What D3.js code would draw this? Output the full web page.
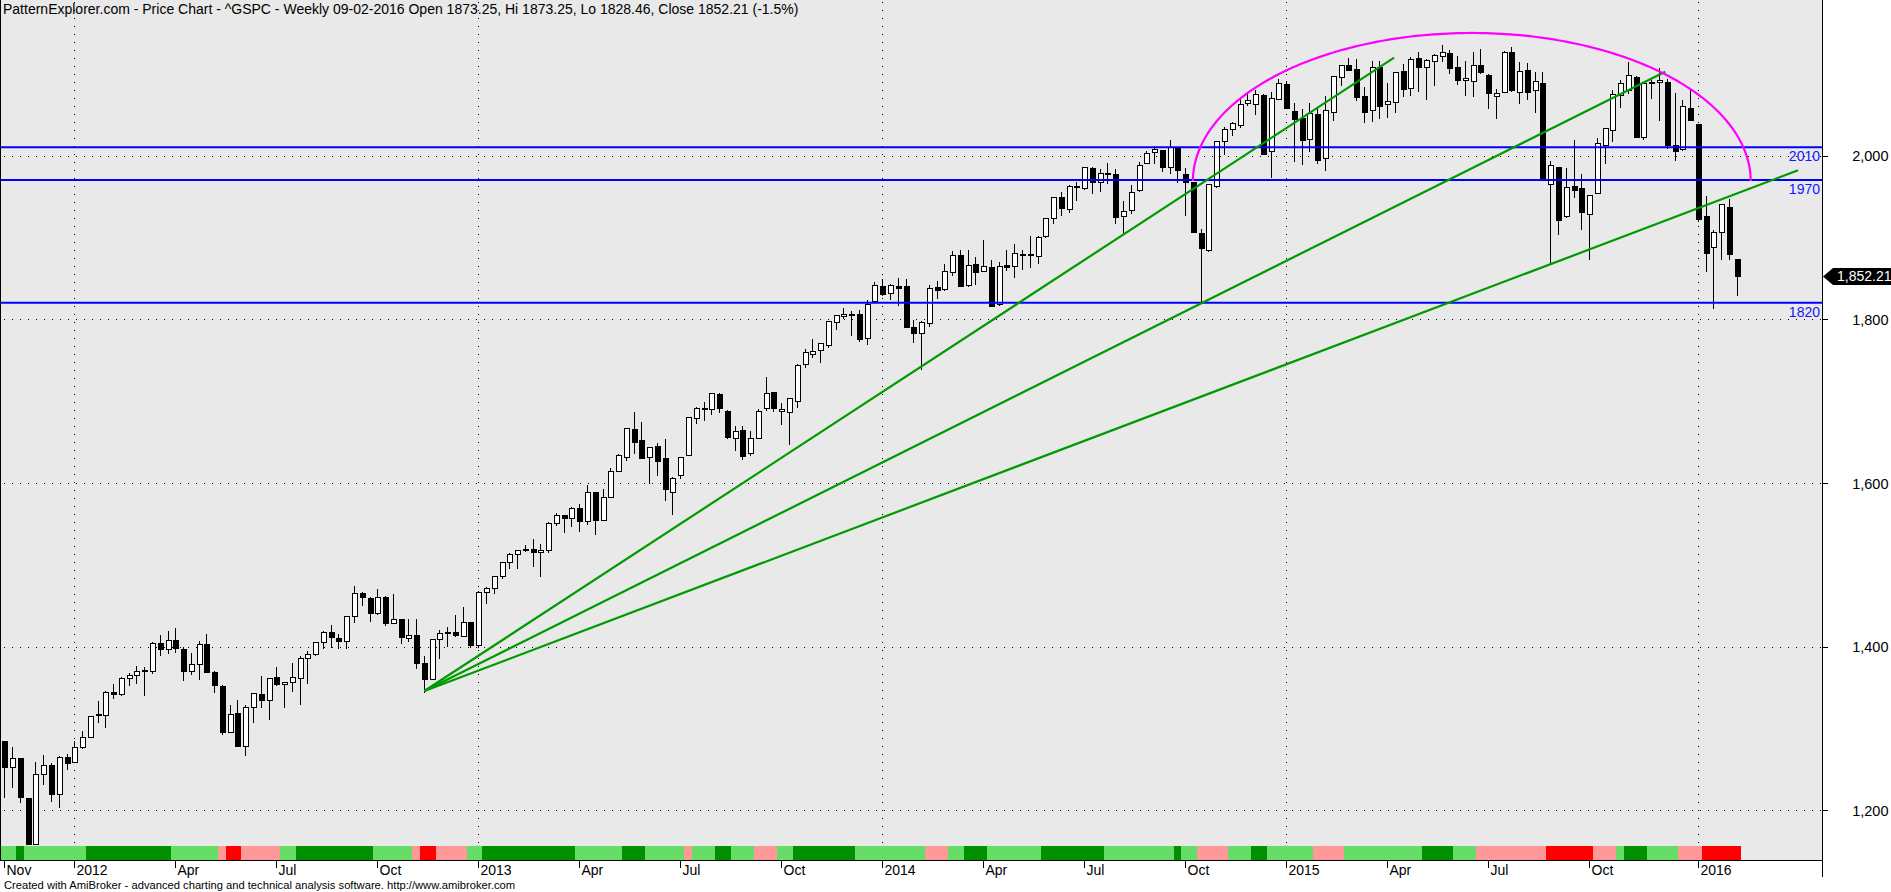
<!DOCTYPE html>
<html><head><meta charset="utf-8">
<script src="https://cdn.jsdelivr.net/npm/d3@7"></script>
<style>
html,body{margin:0;padding:0;background:#fff;}
svg{display:block;font-family:"Liberation Sans",Arial,Helvetica,sans-serif;}
</style>
</head><body>
<svg id="chart" width="1891" height="892"></svg>
<script>
// ---------------- DATA (weekly ^GSPC, first bar = week ending 2011-11-04) ----------------
const firstWeek = "2011-11-04";
const opens = [
1284.96,1253.21,1263.85,1215.62,1158.67,1244.33,1255.05,1219.74,1265.02,1258.86,
1277.83,1289.09,1317.90,1316.00,1344.32,1342.61,1361.22,1365.20,1369.59,1370.78,
1404.17,1397.11,1408.47,1397.45,1370.27,1378.53,1403.30,1368.79,1351.93,1295.73,
1318.90,1278.29,1325.92,1342.30,1334.90,1362.33,1354.66,1356.50,1362.20,1385.50,
1391.04,1405.87,1418.13,1410.40,1406.54,1437.92,1465.42,1459.50,1440.90,1460.93,
1428.75,1433.21,1410.99,1414.02,1379.86,1359.88,1409.15,1416.34,1418.07,1413.54,
1430.15,1402.43,1466.47,1472.12,1485.98,1502.96,1513.17,1517.93,1519.79,1515.60,
1518.20,1551.15,1560.70,1556.89,1569.18,1553.26,1588.59,1555.25,1582.34,1614.40,
1632.10,1665.71,1652.63,1631.71,1644.67,1630.64,1588.77,1609.78,1634.20,1679.59,
1692.09,1690.00,1708.01,1688.37,1655.25,1664.29,1635.95,1655.17,1691.00,1711.44,
1687.26,1687.00,1700.00,1744.70,1758.00,1762.00,1769.00,1797.00,1803.48,1806.55,
1806.21,1777.00,1822.00,1841.07,1832.31,1841.05,1841.05,1791.03,1782.68,1795.00,
1838.76,1836.78,1857.68,1877.86,1842.00,1867.67,1859.16,1863.92,1818.18,1865.79,
1864.50,1879.45,1880.03,1876.66,1902.01,1923.87,1948.97,1934.84,1962.92,1960.79,
1984.22,1968.00,1979.00,1978.00,1926.00,1933.00,1958.00,1991.00,2004.07,2007.17,
1986.00,2009.08,1978.00,1967.68,1905.65,1885.00,1963.00,2018.00,2032.00,2037.00,
2064.50,2063.50,2074.00,2005.03,2069.00,2087.00,2054.44,2046.13,2020.00,2050.42,
1996.67,2053.47,2096.47,2110.88,2105.23,2072.25,2055.35,2107.99,2062.50,2064.87,
2102.94,2082.00,2119.29,2108.00,2115.00,2121.00,2125.00,2108.64,2092.34,2091.34,
2110.64,2098.63,2073.00,2077.00,2126.00,2078.00,2104.49,2080.00,2089.00,1965.15,
1986.00,1926.50,1963.06,1960.84,1928.00,1954.00,2013.00,2031.00,2073.50,2079.70,
2095.50,2022.08,2089.00,2090.00,2089.80,2013.37,2008.30,2057.77,2038.20,1926.12,
1888.00,1906.28,1936.94,1873.25];
const highs = [
1284.96,1277.55,1264.25,1215.62,1259.00,1267.06,1258.00,1265.86,1269.37,1284.62,
1296.82,1315.49,1333.47,1345.34,1354.32,1362.70,1368.10,1376.17,1374.76,1405.88,
1414.00,1419.15,1422.38,1399.00,1392.00,1406.64,1415.32,1370.00,1353.00,1328.49,
1334.93,1329.05,1343.32,1363.53,1362.17,1374.81,1357.00,1380.39,1389.00,1394.16,
1405.98,1418.71,1426.68,1415.40,1437.92,1474.51,1467.00,1460.00,1470.96,1462.00,
1464.02,1434.00,1434.27,1433.38,1388.81,1409.16,1419.70,1423.73,1438.59,1448.00,
1430.15,1467.94,1472.75,1485.98,1503.26,1514.41,1518.31,1524.69,1530.94,1525.84,
1552.48,1563.62,1561.00,1570.28,1573.66,1597.35,1588.59,1592.64,1618.46,1635.01,
1667.47,1687.18,1674.21,1644.40,1648.69,1654.19,1607.00,1632.07,1680.19,1693.12,
1698.43,1709.67,1709.24,1689.00,1669.51,1669.00,1664.00,1689.97,1729.86,1711.44,
1698.00,1703.44,1745.31,1763.99,1775.22,1771.00,1798.22,1804.84,1813.55,1810.00,
1811.52,1823.75,1844.89,1849.44,1843.23,1850.84,1849.31,1798.77,1798.03,1841.65,
1846.50,1867.92,1883.57,1883.97,1883.97,1875.92,1897.28,1872.53,1869.63,1884.89,
1891.33,1885.00,1902.17,1901.26,1924.03,1949.44,1955.55,1963.91,1968.17,1985.59,
1985.59,1983.94,1991.39,1984.00,1944.00,1964.04,1992.40,2005.04,2011.17,2007.17,
2019.26,2009.08,1985.00,1967.68,1910.00,1965.27,2018.19,2034.26,2041.28,2071.46,
2075.76,2079.47,2075.00,2077.85,2093.55,2090.60,2064.43,2056.93,2064.62,2057.62,
2072.40,2097.03,2110.61,2119.59,2117.52,2083.49,2114.86,2114.86,2088.00,2102.61,
2111.91,2120.92,2125.92,2117.66,2123.89,2134.72,2129.00,2121.92,2115.00,2126.65,
2130.00,2099.00,2081.00,2128.00,2132.82,2114.24,2112.66,2102.00,2101.60,1993.00,
1986.00,1985.00,2019.00,1977.40,1951.36,2020.86,2034.00,2079.74,2092.20,2114.20,
2097.00,2089.17,2091.90,2107.30,2093.00,2076.72,2067.65,2081.56,2038.20,1950.33,
1908.85,1940.24,1947.20,1873.25];
const lows = [
1215.42,1226.64,1209.47,1158.66,1158.66,1231.47,1210.00,1202.37,1248.64,1258.86,
1275.00,1288.00,1306.06,1300.49,1336.40,1340.00,1352.28,1354.70,1340.03,1366.69,
1388.13,1391.00,1392.00,1357.38,1365.38,1358.79,1367.96,1343.13,1291.98,1295.00,
1277.25,1266.74,1306.62,1324.41,1309.98,1352.00,1325.41,1345.00,1329.24,1354.65,
1389.00,1397.00,1398.60,1397.01,1396.56,1429.13,1449.57,1430.53,1439.00,1425.53,
1428.00,1403.28,1405.95,1373.03,1343.35,1359.00,1385.43,1399.10,1412.00,1413.00,
1398.11,1398.11,1451.64,1463.76,1482.00,1495.00,1495.00,1515.00,1497.29,1485.01,
1514.00,1547.00,1538.57,1546.22,1539.50,1548.00,1536.03,1553.00,1581.00,1614.00,
1626.74,1635.53,1630.00,1598.23,1608.07,1577.70,1560.33,1604.57,1634.00,1672.00,
1676.03,1683.00,1684.91,1654.00,1639.43,1627.47,1633.41,1655.00,1688.00,1687.11,
1670.36,1646.47,1692.00,1740.00,1752.00,1746.20,1765.00,1787.00,1800.00,1779.09,
1772.28,1767.99,1822.00,1827.74,1823.73,1815.80,1790.29,1770.45,1737.92,1791.00,
1825.00,1834.00,1853.00,1839.49,1839.00,1842.00,1858.00,1814.36,1815.80,1859.00,
1850.61,1859.79,1862.36,1868.00,1899.00,1915.98,1925.78,1930.00,1944.69,1958.00,
1952.86,1955.59,1965.00,1916.37,1904.78,1928.00,1956.00,1990.00,1990.10,1980.26,
1978.00,1965.99,1926.03,1905.03,1820.66,1882.00,1960.00,2001.01,2024.00,2034.00,
2061.00,2049.57,2001.00,1972.56,2069.00,2057.00,1992.44,1988.12,2004.49,1989.18,
1980.90,2041.88,2085.44,2103.00,2066.00,2039.69,2041.00,2045.00,2045.50,2052.00,
2072.00,2073.00,2077.00,2067.93,2085.00,2114.00,2099.00,2085.67,2072.14,2072.00,
2099.00,2056.32,2044.02,2077.00,2077.00,2063.52,2067.91,2052.09,1970.89,1867.01,
1903.07,1924.00,1948.40,1908.77,1871.91,1953.00,1990.00,2017.00,2058.00,2075.00,
2022.00,2019.00,2069.40,2042.50,2008.00,1993.26,2005.00,2042.00,1918.46,1857.83,
1812.29,1872.65,1872.65,1828.46];
const closes = [
1253.23,1263.85,1215.65,1158.67,1244.28,1255.19,1219.66,1265.33,1257.60,1277.81,
1289.09,1315.38,1316.33,1344.90,1342.64,1361.23,1365.74,1369.63,1370.87,1404.17,
1397.11,1408.47,1398.08,1370.26,1378.53,1403.36,1369.10,1353.39,1295.22,1317.82,
1278.04,1325.66,1342.84,1335.02,1362.16,1354.68,1356.78,1362.66,1385.97,1390.99,
1405.87,1418.16,1411.13,1406.58,1437.92,1465.77,1460.15,1440.67,1460.93,1428.59,
1433.19,1411.94,1414.20,1379.85,1359.88,1409.15,1416.18,1418.07,1413.58,1430.15,
1402.43,1466.47,1472.05,1485.98,1502.96,1513.17,1517.93,1519.79,1515.60,1518.20,
1551.18,1560.70,1556.89,1569.19,1553.28,1588.85,1555.25,1582.24,1614.42,1633.70,
1667.47,1649.60,1630.74,1643.38,1626.73,1592.43,1606.28,1631.89,1680.19,1692.09,
1691.65,1709.67,1691.42,1655.83,1663.50,1632.97,1655.17,1687.99,1709.91,1691.75,
1690.50,1703.20,1744.50,1759.77,1761.64,1770.61,1798.18,1804.76,1805.81,1805.09,
1775.32,1818.32,1841.40,1831.37,1842.37,1838.70,1790.29,1782.59,1797.02,1838.63,
1836.25,1859.45,1878.04,1841.13,1866.52,1857.62,1865.09,1815.69,1864.85,1863.40,
1881.14,1878.48,1877.86,1900.53,1923.57,1949.44,1936.16,1962.87,1960.96,1985.44,
1967.57,1978.22,1978.34,1925.15,1931.59,1955.06,1988.40,2003.37,2007.71,1985.54,
2010.40,1982.85,1967.90,1906.13,1886.76,1964.58,2018.05,2031.92,2039.82,2063.50,
2067.56,2075.37,2002.33,2070.65,2088.77,2058.20,2044.81,2019.42,2051.82,1994.99,
2055.47,2096.99,2110.30,2104.50,2071.26,2053.40,2108.10,2061.02,2066.96,2102.06,
2081.18,2117.69,2108.29,2116.10,2122.73,2126.06,2107.39,2092.83,2094.11,2109.99,
2101.49,2076.78,2076.62,2126.64,2079.65,2103.84,2077.57,2091.54,1970.89,1988.87,
1921.22,1961.05,1958.08,1931.34,1951.36,2014.89,2033.11,2075.15,2088.20,2098.00,
2023.04,2089.17,2090.11,2091.69,2012.37,2005.55,2060.99,2043.94,1922.03,1880.33,
1906.90,1940.24,1880.05,1852.21];

// bottom colour strip, run-length per weekly bar
const stripRuns = [["L",2],["D",1],["L",8],["D",11],["L",6],["P",1],["R",2],["P",5],["L",2],["D",10],
["L",5],["P",1],["R",2],["P",4],["L",2],["D",12],["L",6],["D",3],["L",5],["P",1],["L",3],["D",2],
["L",3],["P",3],["L",2],["D",8],["L",9],["P",3],["L",2],["D",3],["L",7],["D",8],["L",9],["D",1],
["L",2],["P",4],["L",3],["D",2],["L",6],["P",4],["L",10],["D",4],["L",3],["P",9],["R",6],["P",3],
["L",1],["D",3],["L",4],["P",3],["R",5]];
const stripColors = {L:"#66dd66", D:"#009000", P:"#ff9999", R:"#ff0000"};

const yTicks = [1200,1400,1600,1800,2000];
const xTickDates  = ["2011-11-04","2012-01-06","2012-04-05","2012-07-06","2012-10-05","2013-01-04","2013-04-05","2013-07-05","2013-10-04","2014-01-03","2014-04-04","2014-07-03","2014-10-03","2015-01-02","2015-04-02","2015-07-02","2015-10-02","2016-01-08"];
const xTickLabels = ["Nov","2012","Apr","Jul","Oct","2013","Apr","Jul","Oct","2014","Apr","Jul","Oct","2015","Apr","Jul","Oct","2016"];

const levels = [2010, 1970, 1820];
const trendStart = {bar: 54.06, value: 1345.7};
const trendEnds = [{bar:178.9, value:2119.5},{bar:213.8, value:2102.4},{bar:230.9, value:1981.9}];
const dome = {fromBar:153.0, toBar:224.8, base:1968.8, top:2149.7};

const titleText = "PatternExplorer.com - Price Chart - ^GSPC - Weekly 09-02-2016 Open 1873.25, Hi 1873.25, Lo 1828.46, Close 1852.21 (-1.5%)";
const footerText = "Created with AmiBroker - advanced charting and technical analysis software. http://www.amibroker.com";
const lastPrice = 1852.21;

// ---------------- LAYOUT ----------------
const svg = d3.select("#chart");
const P = {left:0, right:1822, top:0, bottom:860, strip:846};
const nBars = closes.length;
const x = d3.scaleLinear().domain([0, nBars-1]).range([4.4, 1736.7]);
const y = d3.scaleLinear().domain([1200, 2000]).range([810.3, 155.5]);
const parse = d3.timeParse("%Y-%m-%d");
const t0 = parse(firstWeek);
const barOf = s => d3.timeWeek.count(t0, parse(s));

svg.append("rect").attr("width",1891).attr("height",892).attr("fill","#fff");
svg.append("rect").attr("x",P.left).attr("y",P.top).attr("width",P.right-P.left).attr("height",P.bottom-P.top).attr("fill","#e9e9e9");

const defs = svg.append("defs");
defs.append("clipPath").attr("id","clip").append("rect").attr("x",1).attr("y",0).attr("width",P.right-1).attr("height",P.strip);

const g = svg.append("g").attr("clip-path","url(#clip)");

// grid
const gridG = g.append("g").attr("stroke","#000").attr("stroke-width",1).attr("stroke-dasharray","1,7").attr("shape-rendering","crispEdges");
gridG.selectAll("line.h").data(yTicks).join("line").attr("class","h")
  .attr("x1",P.left+4).attr("x2",P.right).attr("y1",d=>Math.round(y(d))+0.5).attr("y2",d=>Math.round(y(d))+0.5);
const yearTicks = xTickDates.map((d,i)=>({bar:barOf(d), label:xTickLabels[i]})).filter(d=>/^\d{4}$/.test(d.label));
gridG.selectAll("line.v").data(yearTicks).join("line").attr("class","v")
  .attr("x1",d=>Math.round(x(d.bar))+0.5).attr("x2",d=>Math.round(x(d.bar))+0.5).attr("y1",2).attr("y2",P.strip);

// candles
const bars = d3.range(nBars).map(i=>({i,o:opens[i],h:highs[i],l:lows[i],c:closes[i]}));
const cg = g.append("g").attr("shape-rendering","crispEdges");
const cx = d => Math.round(x(d.i)) + 0.5;
cg.selectAll("line.wick").data(bars).join("line").attr("class","wick")
  .attr("x1",cx).attr("x2",cx).attr("y1",d=>y(d.h)).attr("y2",d=>y(d.l))
  .attr("stroke","#000").attr("stroke-width",1);
cg.selectAll("rect.body").data(bars).join("rect").attr("class","body")
  .attr("x",d=>cx(d)-2.5).attr("width",5)
  .attr("y",d=>Math.round(y(Math.max(d.o,d.c)))+0.5)
  .attr("height",d=>Math.max(1, Math.round(y(Math.min(d.o,d.c))) - Math.round(y(Math.max(d.o,d.c)))))
  .attr("fill",d=>d.c>=d.o?"#fff":"#000").attr("stroke","#000").attr("stroke-width",1);

// horizontal levels
g.selectAll("line.lvl").data(levels).join("line").attr("class","lvl")
  .attr("x1",P.left).attr("x2",P.right).attr("y1",d=>y(d)).attr("y2",d=>y(d))
  .attr("stroke","#0000ff").attr("stroke-width",2);

// trend lines
g.selectAll("line.tr").data(trendEnds).join("line").attr("class","tr")
  .attr("x1",x(trendStart.bar)).attr("y1",y(trendStart.value))
  .attr("x2",d=>x(d.bar)).attr("y2",d=>y(d.value))
  .attr("stroke","#009a00").attr("stroke-width",2.2);

// dome (half ellipse)
const cBar=(dome.fromBar+dome.toBar)/2, aBar=(dome.toBar-dome.fromBar)/2, hVal=dome.top-dome.base;
const domePts = d3.range(0,181).map(k=>{const t=Math.PI*k/180; return [cBar - aBar*Math.cos(t), dome.base + hVal*Math.sin(t)];});
g.append("path").attr("d", d3.line().x(d=>x(d[0])).y(d=>y(d[1]))(domePts))
  .attr("fill","none").attr("stroke","#ff00ff").attr("stroke-width",2.2);

// level labels
svg.selectAll("text.lvl").data(levels).join("text").attr("class","lvl")
  .attr("x",1820).attr("y",d=>y(d)+14).attr("text-anchor","end")
  .attr("font-size",14).attr("fill","#1515ff").text(d=>d);

// colour strip
let k=0; const strip=[];
stripRuns.forEach(([c,n])=>{ for(let j=0;j<n;j++){ strip.push({i:k++, c}); } });
svg.append("g").attr("shape-rendering","crispEdges").selectAll("rect").data(strip).join("rect")
  .attr("x",d=>Math.round(x(d.i-0.5))).attr("width",d=>Math.round(x(d.i+0.5))-Math.round(x(d.i-0.5)))
  .attr("y",P.strip).attr("height",P.bottom-P.strip).attr("fill",d=>stripColors[d.c]);

// frame
const fr = svg.append("g").attr("stroke","#000").attr("stroke-width",1).attr("shape-rendering","crispEdges");
fr.append("line").attr("x1",0.5).attr("x2",0.5).attr("y1",0).attr("y2",P.bottom);
fr.append("line").attr("x1",0).attr("x2",P.right).attr("y1",P.bottom+0.5).attr("y2",P.bottom+0.5);
fr.append("line").attr("x1",P.right+0.5).attr("x2",P.right+0.5).attr("y1",0).attr("y2",877);

// y axis
const yAxis = d3.axisRight(y).tickValues(yTicks).tickFormat(d3.format(",")).tickSize(5).tickSizeOuter(0);
const ya = svg.append("g").attr("transform",`translate(${P.right+0.5},0)`).call(yAxis);
ya.select(".domain").remove();
ya.selectAll("line").attr("stroke","#000").attr("shape-rendering","crispEdges");
ya.selectAll("text").attr("x",66).attr("text-anchor","end").attr("font-size",14.5)
  .attr("font-family","'Liberation Sans',Arial,sans-serif").attr("fill","#000").attr("dy","0.36em");

// x axis ticks
const xt = xTickDates.map((d,i)=>({bar:barOf(d), label:xTickLabels[i]}));
const xg = svg.append("g");
xg.selectAll("line").data(xt).join("line")
  .attr("x1",d=>Math.round(x(d.bar))+0.5).attr("x2",d=>Math.round(x(d.bar))+0.5)
  .attr("y1",P.bottom).attr("y2",P.bottom+8).attr("stroke","#000").attr("shape-rendering","crispEdges");
xg.selectAll("text").data(xt).join("text")
  .attr("x",d=>Math.round(x(d.bar))+2.5).attr("y",P.bottom+14.5)
  .attr("font-size",14).attr("fill","#000").text(d=>d.label);

// last price tag
const ly = y(lastPrice);
svg.append("path").attr("d",`M${P.right+1},${ly} L${P.right+11},${ly-8.5} L1891,${ly-8.5} L1891,${ly+8.5} L${P.right+11},${ly+8.5} Z`).attr("fill","#000");
svg.append("text").attr("x",1837).attr("y",ly+5).attr("font-size",14).attr("fill","#fff").text(d3.format(",.2f")(lastPrice));

// title & footer
svg.append("text").attr("x",3).attr("y",14).attr("font-size",14).attr("fill","#000").text(titleText);
svg.append("text").attr("x",4).attr("y",889).attr("font-size",11.2).attr("fill","#000").text(footerText);
</script>
</body></html>
